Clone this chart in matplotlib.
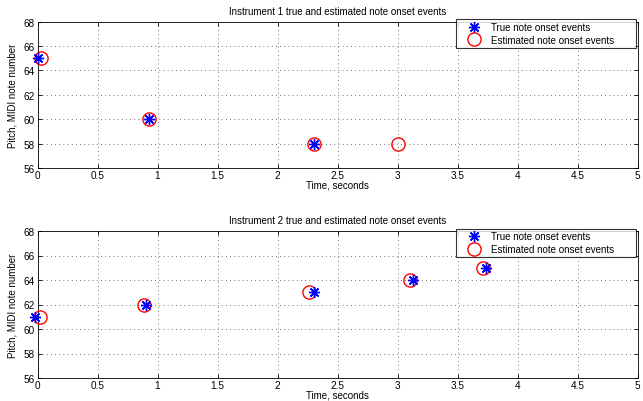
import matplotlib
matplotlib.use("Agg")
import matplotlib.pyplot as plt

plt.rcParams['font.family'] = ['Liberation Sans', 'DejaVu Sans']

# instrument 1
true1_t = [0.0, 0.925, 2.30]
true1_p = [65, 60, 58]
est1_t = [0.03, 0.925, 2.30, 3.00]
est1_p = [65, 60, 58, 58]

# instrument 2
true2_t = [-0.02, 0.905, 2.30, 3.13, 3.74]
true2_p = [61, 62, 63, 64, 65]
est2_t = [0.02, 0.89, 2.265, 3.10, 3.71]
est2_p = [61, 62, 63, 64, 65]

xticks = [0, 0.5, 1, 1.5, 2, 2.5, 3, 3.5, 4, 4.5, 5]
xticklabels = ['0', '0.5', '1', '1.5', '2', '2.5', '3', '3.5', '4', '4.5', '5']
yticks = [56, 58, 60, 62, 64, 66, 68]

fig = plt.figure(figsize=(6.43, 4.02), dpi=100)
W, H = 643, 402
boxes = [(37.5, 22.5, 637.5, 169.3), (37.5, 232.0, 637.5, 379.0)]
data = [(1, true1_t, true1_p, est1_t, est1_p), (2, true2_t, true2_p, est2_t, est2_p)]

for (x0, y0, x1, y1), (n, tt, tp, et, ep) in zip(boxes, data):
    ax = fig.add_axes([x0 / W, 1 - y1 / H, (x1 - x0) / W, (y1 - y0) / H])
    ax.plot(tt, tp, linestyle='none', marker=(8, 2, 0), markersize=8,
            markeredgewidth=1.0, color='#0000ff', clip_on=False, zorder=4,
            label='True note onset events')
    ax.plot(et, ep, linestyle='none', marker='o', markersize=9.5,
            markeredgewidth=1.0, markerfacecolor='none', markeredgecolor='#ff0000',
            clip_on=False, zorder=3, label='Estimated note onset events')
    ax.set_xlim(0, 5)
    ax.set_ylim(56, 68)
    ax.set_xticks(xticks)
    ax.set_xticklabels(xticklabels)
    ax.set_yticks(yticks)
    ax.tick_params(direction='in', labelsize=7.2, length=3, width=0.6, pad=2,
                   top=True, right=True)
    ax.tick_params(axis='x', pad=1.5)
    ax.grid(True, linestyle=(0, (1, 4)), color='#444444', linewidth=0.6)
    for s in ax.spines.values():
        s.set_linewidth(0.6)
    ax.set_title('Instrument %d true and estimated note onset events' % n,
                 fontsize=7, pad=5.5)
    ax.set_xlabel('Time, seconds', fontsize=7, labelpad=-0.5)
    ax.set_ylabel('Pitch, MIDI note number', fontsize=7, labelpad=4)
    # legend box placed like the original, sticking slightly above the axes
    leg = ax.legend(loc='upper left', bbox_to_anchor=(0.6975, 0.83, 0.3, 0.187),
                    mode='expand', borderaxespad=0, fontsize=7, frameon=True,
                    fancybox=False, edgecolor='black', borderpad=0.3,
                    labelspacing=0.3, handletextpad=0.15, handlelength=3.2)
    leg.get_frame().set_linewidth(0.8)

fig.savefig('out.png', dpi=100)
